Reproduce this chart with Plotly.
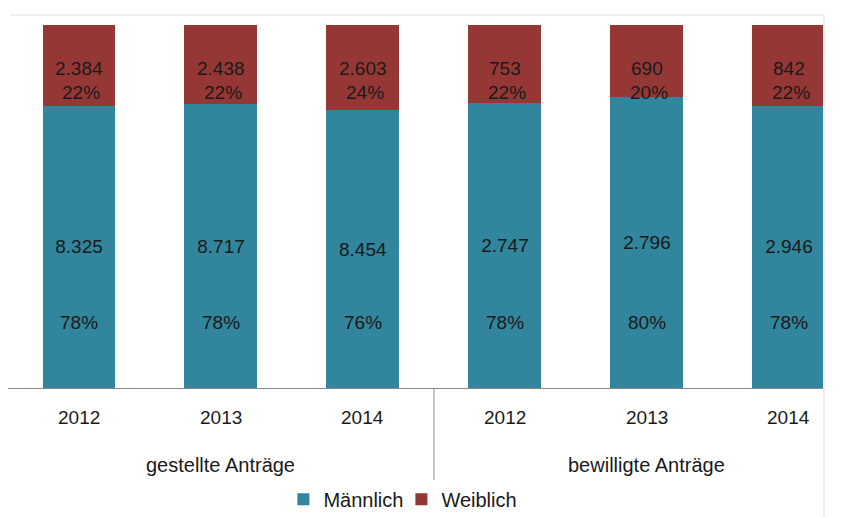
import plotly.graph_objects as go

years = ["2012", "2013", "2014", "2012", "2013", "2014"]
groups = ["gestellte Anträge", "bewilligte Anträge"]
maennlich = [8325, 8717, 8454, 2747, 2796, 2946]
weiblich = [2384, 2438, 2603, 753, 690, 842]
pct_m = [78, 78, 76, 78, 80, 78]
pct_w = [22, 22, 24, 22, 20, 22]

TEAL = "#31859C"
RED = "#953735"
FONT = "Liberation Sans"
TXT = "#1a1a1a"
FRAME = "#EDEFF3"

def de(v):
    return f"{v:,}".replace(",", ".")

xs = list(range(len(years)))

fig = go.Figure()
fig.add_trace(go.Bar(
    x=xs, y=maennlich, name="Männlich", marker=dict(color=TEAL, line=dict(width=0)),
    text=[de(v) for v in maennlich], textposition="inside", insidetextanchor="middle",
    textangle=0, textfont=dict(family=FONT, size=19, color=TXT), hoverinfo="skip",
))
fig.add_trace(go.Bar(
    x=xs, y=weiblich, name="Weiblich", marker=dict(color=RED, line=dict(width=0)),
    hoverinfo="skip",
))

PH = 363  # plot height in px
ann = []
for i in xs:
    ann.append(dict(x=i, y=1, xref="x", yref="y", text=de(weiblich[i]), showarrow=False,
                    yshift=-43, font=dict(family=FONT, size=19, color=TXT)))
    ann.append(dict(x=i, y=1, xref="x", yref="y", text=f"{pct_w[i]}%", showarrow=False,
                    yshift=-67, xshift=2, font=dict(family=FONT, size=19, color=TXT)))
    ann.append(dict(x=i, y=0, xref="x", yref="y", text=f"{pct_m[i]}%", showarrow=False,
                    yshift=66, font=dict(family=FONT, size=19, color=TXT)))
    ann.append(dict(x=i, y=0, xref="x", yref="paper", text=years[i], showarrow=False,
                    yshift=-42, font=dict(family=FONT, size=19, color=TXT)))
for g, name in enumerate(groups):
    ann.append(dict(x=g * 3 + 1, y=0, xref="x", yref="paper", text=name, showarrow=False,
                    yshift=-90, font=dict(family=FONT, size=20, color=TXT)))

shapes = [
    dict(type="line", xref="x", yref="paper", x0=2.5, x1=2.5, y0=0, y1=-92 / PH,
         line=dict(color="#8a8a8a", width=1)),
    dict(type="line", xref="paper", yref="paper", x0=0.003, x1=816 / 817, y0=1 + 10 / PH, y1=1 + 10 / PH,
         line=dict(color=FRAME, width=2)),
    dict(type="line", xref="paper", yref="paper", x0=816 / 817, x1=816 / 817, y0=1 + 10 / PH, y1=-129 / PH,
         line=dict(color=FRAME, width=2)),
]

fig.update_layout(
    width=837, height=509,
    margin=dict(l=0, r=20, t=17, b=129),
    paper_bgcolor="white", plot_bgcolor="white",
    barmode="stack", barnorm="fraction", bargap=0.486,
    showlegend=True,
    legend=dict(orientation="h", xref="container", yref="container", x=0.47, y=0.035,
                xanchor="center", yanchor="middle", font=dict(family=FONT, size=20, color=TXT),
                itemwidth=30, tracegroupgap=0, traceorder="normal",
                entrywidth=73, entrywidthmode="pixels"),
    xaxis=dict(range=[-0.5, 5.254], showticklabels=False, showgrid=False, zeroline=False,
               showline=True, linecolor="#8a8a8a", linewidth=1, ticks=""),
    yaxis=dict(range=[0, 1], showticklabels=False, showgrid=False, zeroline=False, showline=False),
    annotations=ann, shapes=shapes,
    font=dict(family=FONT),
)
fig.write_html("out.html")
